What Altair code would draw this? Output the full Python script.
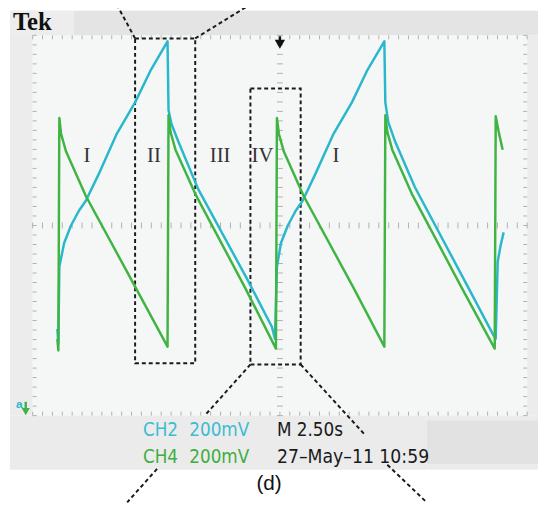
import altair as alt
import pandas as pd

# ---- CH2 (cyan) trace : time (s), voltage (mV) ----
ch2_t = [1.25, 1.30, 1.35, 1.59, 1.94, 2.34, 2.69, 3.34, 4.23, 5.18, 5.98, 6.82,
         6.87, 7.02, 7.37, 8.37, 10.86, 12.10, 12.25,
         12.35, 12.55, 12.90, 13.30, 13.65, 14.29, 15.19, 16.14, 16.93, 17.78,
         17.83, 17.98, 18.33, 19.32, 21.81, 23.26, 23.41,
         23.51, 23.66, 23.81]
ch2_v = [-435, -497, -174, -75, 0, 62, 104, 216, 382, 518, 655, 775,
         485, 427, 352, 153, -228, -427, -477,
         -174, -75, 0, 62, 104, 216, 382, 518, 655, 775,
         518, 435, 352, 162, -228, -456, -477,
         -153, -83, -29]

# ---- CH4 (green) trace ----
ch4_t = [1.25, 1.30, 1.35, 1.44, 1.69, 2.69, 5.18, 6.82,
         6.87, 6.97, 7.22, 8.22, 10.71, 12.30,
         12.35, 12.45, 12.70, 13.70, 16.19, 17.78,
         17.83, 17.93, 18.18, 19.17, 21.66, 23.36,
         23.41, 23.56, 23.76]
ch4_v = [-477, -526, 452, 385, 311, 124, -257, -510,
         464, 394, 319, 133, -257, -518,
         452, 385, 311, 124, -257, -510,
         464, 394, 319, 133, -257, -518,
         460, 394, 319]

# ---- region labels ----
region_labels = ["I", "II", "III", "IV", "I"]
region_t = [2.74, 6.13, 9.48, 11.62, 15.33]
region_v = [290, 290, 290, 290, 290]

# ---- dashed zoom boxes ----
box_t1 = [5.18, 11.01]
box_t2 = [8.22, 13.55]
box_v1 = [-580, -585]
box_v2 = [787, 576]

# ---- dashed leader lines ----
lead_t1 = [5.18, 8.22, 11.01, 6.29, 13.55, 17.93]
lead_v1 = [787, 787, -585, -1024, -585, -1007]
lead_t2 = [4.23, 11.06, 8.70, 4.78, 16.78, 19.92]
lead_v2 = [933, 933, -800, -1165, -879, -1165]

# ---- readout texts ----
ch_labels = ["CH2", "CH4"]
ch_scales = ["200mV", "200mV"]
info_texts = ["M 2.50s", "27\u2013May\u201311 10:59"]

CYAN = "#29b7cb"
GREEN = "#40b443"

xs = alt.Scale(domain=[0, 25], nice=False, zero=False)
ys = alt.Scale(domain=[-800, 800], nice=False, zero=False)

major_t = [2.5 * i for i in range(1, 10)]
major_v = [-600, -400, -200, 0, 200, 400, 600]
minor_t = [0.5 * i for i in range(51)]
minor_v = [-800 + 40 * i for i in range(41)]


def rect(x1, x2, y1, y2, color):
    return alt.Chart(pd.DataFrame({"a": [0]})).mark_rect(color=color).encode(
        x=alt.value(x1), x2=alt.value(x2), y=alt.value(y1), y2=alt.value(y2))


def txt(s, x, y, size, color, font, weight="normal", align="left", baseline="middle"):
    return alt.Chart(pd.DataFrame({"s": [s]})).mark_text(
        fontSize=size, color=color, font=font, fontWeight=weight,
        align=align, baseline=baseline).encode(
        text="s:N", x=alt.value(x), y=alt.value(y))


frame = [
    rect(-23, 513, -25, 0, "#e4e4e4"),
    rect(-23, 42, -25, 0, "#ededed"),
    rect(-23, 0, 0, 386, "#ececec"),
    rect(502, 513, 0, 386, "#ececec"),
    rect(-23, 400, 386, 441, "#ebebeb"),
    rect(400, 513, 386, 441, "#ececec"),
    rect(400, 513, 391, 435, "#e2e2e2"),
]

traces = pd.DataFrame({
    "t": ch2_t + ch4_t,
    "v": ch2_v + ch4_v,
    "ch": ["CH2"] * len(ch2_t) + ["CH4"] * len(ch4_t),
    "i": list(range(len(ch2_t))) + list(range(len(ch4_t))),
})

trace_layer = alt.Chart(traces).mark_line(strokeWidth=2.5, strokeJoin="round").encode(
    x=alt.X("t:Q", scale=xs, axis=alt.Axis(values=major_t, grid=True, labels=False,
                                           ticks=False, domain=False, title=None,
                                           gridDash=[2, 8], gridColor="#a8a8a8",
                                           gridWidth=1)),
    y=alt.Y("v:Q", scale=ys, axis=alt.Axis(values=major_v, grid=True, labels=False,
                                           ticks=False, domain=False, title=None,
                                           gridDash=[2, 8], gridColor="#a8a8a8",
                                           gridWidth=1)),
    color=alt.Color("ch:N", scale=alt.Scale(domain=["CH2", "CH4"], range=[CYAN, GREEN]),
                    legend=None),
    order="i:Q",
)

tdf = pd.DataFrame({"t": minor_t})
vdf = pd.DataFrame({"v": minor_v})
tick_col = "#b0b0b0"
ticks = [
    alt.Chart(tdf).mark_rule(color=tick_col, strokeWidth=1).encode(
        x=alt.X("t:Q", scale=xs, axis=None), y=alt.value(0), y2=alt.value(4)),
    alt.Chart(tdf).mark_rule(color=tick_col, strokeWidth=1).encode(
        x=alt.X("t:Q", scale=xs, axis=None), y=alt.value(382), y2=alt.value(386)),
    alt.Chart(tdf).mark_rule(color=tick_col, strokeWidth=1).encode(
        x=alt.X("t:Q", scale=xs, axis=None), y=alt.value(190), y2=alt.value(196)),
    alt.Chart(vdf).mark_rule(color=tick_col, strokeWidth=1).encode(
        y=alt.Y("v:Q", scale=ys, axis=None), x=alt.value(0), x2=alt.value(4)),
    alt.Chart(vdf).mark_rule(color=tick_col, strokeWidth=1).encode(
        y=alt.Y("v:Q", scale=ys, axis=None), x=alt.value(498), x2=alt.value(502)),
    alt.Chart(vdf).mark_rule(color=tick_col, strokeWidth=1).encode(
        y=alt.Y("v:Q", scale=ys, axis=None), x=alt.value(248), x2=alt.value(254)),
]

boxes = alt.Chart(pd.DataFrame({"t1": box_t1, "t2": box_t2, "v1": box_v1, "v2": box_v2})).mark_rect(
    fill="transparent", stroke="#1a1a1a", strokeWidth=2, strokeDash=[4, 3]).encode(
    x=alt.X("t1:Q", scale=xs, axis=None), x2="t2:Q",
    y=alt.Y("v1:Q", scale=ys, axis=None), y2="v2:Q")

leads = alt.Chart(pd.DataFrame({"t1": lead_t1, "t2": lead_t2, "v1": lead_v1, "v2": lead_v2})).mark_rule(
    color="#1a1a1a", strokeWidth=2, strokeDash=[4, 3]).encode(
    x=alt.X("t1:Q", scale=xs, axis=None), x2="t2:Q",
    y=alt.Y("v1:Q", scale=ys, axis=None), y2="v2:Q")

numerals = alt.Chart(pd.DataFrame({"lab": region_labels, "t": region_t, "v": region_v})).mark_text(
    font="Liberation Serif", fontSize=21, color="#333333", baseline="middle", align="center").encode(
    x=alt.X("t:Q", scale=xs, axis=None), y=alt.Y("v:Q", scale=ys, axis=None), text="lab:N")

SANS = "Liberation Sans Narrow, Arial Narrow, DejaVu Sans Condensed, Liberation Sans, sans-serif"
texts = [
    txt("Tek", -20, -5, 25, "#111111", "Liberation Serif", weight="bold", baseline="alphabetic"),
    txt(ch_labels[0], 112, 401, 19, "#3dbcd2", SANS),
    txt(ch_scales[0], 159, 401, 19, "#3dbcd2", SANS),
    txt(ch_labels[1], 112, 428, 19, "#3fae3f", SANS),
    txt(ch_scales[1], 159, 428, 19, "#3fae3f", SANS),
    txt(info_texts[0], 248, 401, 19, "#1a1a1a", SANS),
    txt(info_texts[1], 248, 428, 19.5, "#1a1a1a", SANS),
    txt("(d)", 240, 456, 21, "#111111", "Liberation Sans", align="center"),
    txt("a", -17, 374, 12, CYAN, "Liberation Sans", weight="bold"),
]

one = pd.DataFrame({"a": [0]})
markers = [
    alt.Chart(one).mark_rule(color="#111111", strokeWidth=2.5).encode(
        x=alt.value(251), y=alt.value(1), y2=alt.value(7)),
    alt.Chart(one).mark_point(shape="triangle-down", filled=True, color="#111111", size=110, opacity=1).encode(
        x=alt.value(251), y=alt.value(9)),
    alt.Chart(one).mark_rule(color=GREEN, strokeWidth=2.5).encode(
        x=alt.value(-7), y=alt.value(372), y2=alt.value(380)),
    alt.Chart(one).mark_point(shape="triangle-down", filled=True, color=GREEN, size=70, opacity=1).encode(
        x=alt.value(-7), y=alt.value(382)),
]

chart = alt.layer(
    trace_layer.mark_line(opacity=0).encode(),
    *frame, *ticks, leads, boxes, trace_layer, numerals, *texts, *markers
).properties(
    width=502, height=386,
    autosize=alt.AutoSizeParams(type="none"),
    padding={"left": 25, "top": 24, "right": 11, "bottom": 88},
    background="white",
).configure_view(fill="#f5f7f7", stroke=None)

chart.save("out.html", embed_options={"renderer": "svg", "actions": False})
